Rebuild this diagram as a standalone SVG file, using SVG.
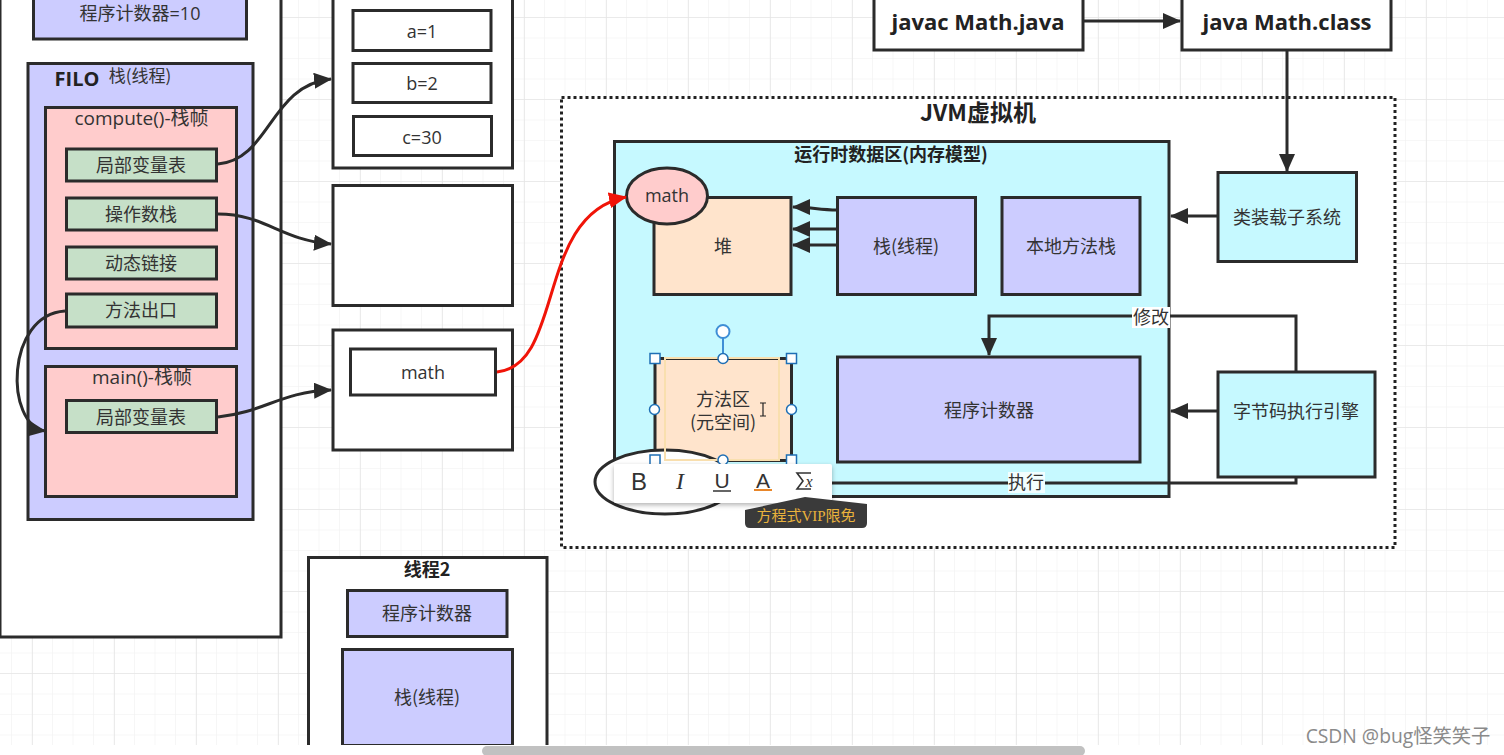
<svg xmlns="http://www.w3.org/2000/svg" width="1504" height="755" viewBox="0 0 1504 755">
<style>
text{font-family:"Open Sans","Noto Sans CJK SC","Noto Sans",sans-serif;font-size:18px;fill:#333;text-anchor:middle;dominant-baseline:central}
.cjk{font-family:"Noto Sans CJK SC","Noto Sans",sans-serif}
.b{font-weight:700;fill:#222}
rect.n{stroke:#2b2b2b;stroke-width:3}
.w{fill:#fff}.v{fill:#ccccff}.p{fill:#ffcccc}.g{fill:#c6e0c8}.o{fill:#ffe4cc}.c{fill:#c6f9ff}
.l{fill:none;stroke:#2b2b2b;stroke-width:3}
.h{fill:#fff;stroke:#1f6fb5;stroke-width:1.5}
.t{fill:none;stroke:#333;stroke-width:1.6}
</style>
<defs>
<marker id="a" viewBox="0 0 18 16" refX="17" refY="8" markerWidth="18" markerHeight="16" markerUnits="userSpaceOnUse" orient="auto"><path d="M0 0L18 8L0 16Z" fill="#2b2b2b"/></marker>
<marker id="r" viewBox="0 0 18 16" refX="17" refY="8" markerWidth="18" markerHeight="16" markerUnits="userSpaceOnUse" orient="auto"><path d="M0 0L18 8L0 16Z" fill="#f01408"/></marker>
<pattern id="g1" width="20.5" height="20.5" patternUnits="userSpaceOnUse" patternTransform="translate(11 17)"><path d="M0 20.5V0H20.5" fill="none" stroke="#f0f0f0" stroke-width="1.2"/></pattern>
<pattern id="g2" width="82" height="82" patternUnits="userSpaceOnUse" patternTransform="translate(32 17)"><path d="M0 82V0H82" fill="none" stroke="#e6e6e6" stroke-width="1.5"/></pattern>
<filter id="s" x="-10%" y="-20%" width="120%" height="150%"><feDropShadow dx="0" dy="2" stdDeviation="2.5" flood-color="#000" flood-opacity=".3"/></filter>
</defs>
<rect width="1504" height="755" fill="#fff"/>
<rect width="1504" height="755" fill="url(#g1)"/>
<rect width="1504" height="755" fill="url(#g2)"/>

<g id="thread1"><rect class="n w" x="0" y="-10" width="281" height="647"/></g>
<g id="pc1"><rect class="n v" x="33.500" y="-10" width="213" height="49"/><text x="140" y="13">程序计数器=10</text></g>
<g id="stack1"><rect class="n v" x="28" y="63.500" width="225" height="456"/><text class="b" x="77" y="78" style="font-size:20px">FILO</text><text x="140" y="74" class="cjk" style="font-size:17px">栈(线程)</text></g>
<g id="frame-compute"><rect class="n p" x="45.500" y="107.500" width="191" height="241"/><text x="141.500" y="118" style="font-size:19px">compute()-栈帧</text></g>
<g id="compute-locals"><rect class="n g" x="66.500" y="149" width="150" height="32"/><text x="141" y="165">局部变量表</text></g>
<g id="compute-ops"><rect class="n g" x="66.500" y="198" width="150" height="32"/><text x="141" y="214">操作数栈</text></g>
<g id="compute-link"><rect class="n g" x="66.500" y="247" width="150" height="32"/><text x="141" y="263">动态链接</text></g>
<g id="compute-exit"><rect class="n g" x="66.500" y="294" width="150" height="33"/><text x="141" y="310">方法出口</text></g>
<g id="frame-main"><rect class="n p" x="45.500" y="366.500" width="191" height="130"/><text x="142" y="377" style="font-size:19px">main()-栈帧</text></g>
<g id="main-locals"><rect class="n g" x="66.500" y="400.500" width="150" height="32"/><text x="141" y="417">局部变量表</text></g>

<g id="vars-box"><rect class="n w" x="333" y="-10" width="179.500" height="178"/></g>
<g id="var-a"><rect class="n w" x="353" y="10.500" width="138" height="40"/><text x="422" y="31">a=1</text></g>
<g id="var-b"><rect class="n w" x="353" y="63.500" width="138" height="39"/><text x="422" y="83">b=2</text></g>
<g id="var-c"><rect class="n w" x="353.500" y="116.500" width="138" height="39"/><text x="422" y="137">c=30</text></g>
<g id="ops-box"><rect class="n w" x="333" y="185.500" width="179.500" height="120"/></g>
<g id="main-box"><rect class="n w" x="333" y="330" width="179.500" height="120"/></g>
<g id="var-math"><rect class="n w" x="350.500" y="349" width="145" height="46"/><text x="423" y="372">math</text></g>

<g id="thread2"><rect class="n w" x="308.500" y="557.500" width="238.500" height="205"/><text class="b cjk" x="427" y="568" style="font-size:18px">线程2</text></g>
<g id="pc2"><rect class="n v" x="347.500" y="590.500" width="159.500" height="46"/><text x="427" y="613">程序计数器</text></g>
<g id="stack2"><rect class="n v" x="342.500" y="649.500" width="170" height="96"/><text x="427" y="696" class="cjk">栈(线程)</text></g>

<g id="javac"><rect class="n w" x="874" y="-10" width="209" height="60"/><text class="b" x="978" y="21" style="font-size:22px">javac Math.java</text></g>
<g id="java"><rect class="n w" x="1182" y="-10" width="209" height="60"/><text class="b" x="1287" y="21" style="font-size:22px">java Math.class</text></g>

<g id="jvm"><rect x="561.500" y="97.500" width="833.500" height="450" fill="#fff" stroke="#222" stroke-width="3" stroke-dasharray="3 3"/></g>
<g id="runtime"><rect class="n c" x="614.500" y="141.500" width="554.500" height="355"/><text class="b cjk" x="891" y="153" style="font-size:18px">运行时数据区(内存模型)</text></g>
<text class="b cjk" x="978" y="111" style="font-size:23px">JVM虚拟机</text>
<g id="heap"><rect class="n o" x="654" y="197.500" width="137" height="97"/><text x="723" y="246">堆</text></g>
<g id="math-oval"><ellipse cx="667" cy="196" rx="40.500" ry="28" fill="#ffcccc" stroke="#2b2b2b" stroke-width="3"/><text x="667" y="195">math</text></g>
<g id="stack"><rect class="n v" x="837.500" y="197.500" width="138" height="97"/><text x="906" y="245" class="cjk">栈(线程)</text></g>
<g id="native"><rect class="n v" x="1002" y="197.500" width="138" height="97"/><text x="1071" y="246">本地方法栈</text></g>
<g id="pc"><rect class="n v" x="837.500" y="357" width="302.500" height="105"/><text x="989" y="410">程序计数器</text></g>
<g id="method"><rect class="n o" x="655" y="358.500" width="136.500" height="102"/><text x="723" y="399">方法区</text><text x="723" y="421" class="cjk">(元空间)</text></g>
<g id="loader"><rect class="n c" x="1218" y="172.500" width="138.500" height="89"/><text x="1287" y="217">类装载子系统</text></g>
<g id="engine"><rect class="n c" x="1218" y="372" width="157" height="105"/><text x="1296" y="411">字节码执行引擎</text></g>

<g id="connectors">
<path class="l" marker-end="url(#a)" d="M218 164C270 160 270 85 331 79"/>
<path class="l" marker-end="url(#a)" d="M218 214C265 214 280 240 331 244"/>
<path class="l" marker-end="url(#a)" d="M218 417C265 412 280 392 331 390"/>
<path class="l" marker-end="url(#a)" d="M65 311C5 315 5 425 45 431"/>
<path fill="none" stroke="#f01408" stroke-width="3" marker-end="url(#r)" d="M497 372C565 365 535 215 626 197"/>
<path class="l" marker-end="url(#a)" d="M1083 21H1180"/>
<path class="l" marker-end="url(#a)" d="M1287 51V171"/>
<path class="l" marker-end="url(#a)" d="M1217 216H1171"/>
<path class="l" marker-end="url(#a)" d="M1217 411H1171"/>
<path class="l" marker-end="url(#a)" d="M837 210C820 210 810 207 793 207"/>
<path class="l" marker-end="url(#a)" d="M837 229H793"/>
<path class="l" marker-end="url(#a)" d="M837 245H793"/>
<path class="l" marker-end="url(#a)" d="M1296 372V316H989V355"/>
<path class="l" d="M1296 477V483H820"/>
<rect x="1132" y="307" width="38" height="21" fill="#fff"/><text x="1151" y="317">修改</text>
<rect x="1008" y="472" width="37" height="21" fill="#f2feff"/><text x="1026" y="482">执行</text>
</g>

<ellipse cx="665" cy="482" rx="70" ry="32" fill="#fff" stroke="#2b2b2b" stroke-width="3"/>
<rect x="665" y="358" width="114" height="102" fill="none" stroke="#f9dfae" stroke-width="2"/>
<g fill="#fff" stroke="#1f6fb5" stroke-width="1.5">
<path d="M723 338V358" fill="none" stroke="#3f8fd6" stroke-width="2"/>
<circle cx="723" cy="331.500" r="6.500" stroke="#3f8fd6" stroke-width="2"/>
<rect class="h" x="650" y="353.500" width="10" height="10"/><rect class="h" x="786.500" y="353.500" width="10" height="10"/>
<circle class="h" cx="723" cy="358.500" r="5"/>
<circle class="h" cx="654.500" cy="409.500" r="5"/><circle class="h" cx="791.500" cy="409.500" r="5"/>
<rect class="h" x="650" y="455" width="10" height="10"/><rect class="h" x="786.500" y="455" width="10" height="10"/>
<circle class="h" cx="723" cy="460" r="5"/>
</g>
<path d="M760 403H766M763 403V416M760 416H766" fill="none" stroke="#222" stroke-width="1.2"/>

<rect x="614" y="464" width="218" height="39" rx="2" fill="#fff" filter="url(#s)"/>
<text x="639" y="481" style="font-size:24px;font-family:'Liberation Sans',sans-serif">B</text>
<text x="680" y="481" style="font-size:24px;font-style:italic;font-family:'Liberation Serif',serif">I</text>
<text x="722" y="480" style="font-size:21px;font-family:'Liberation Sans',sans-serif">U</text>
<path d="M713 491H731" stroke="#333" stroke-width="1.5"/>
<text x="763" y="480" style="font-size:21px;font-family:'Liberation Sans',sans-serif">A</text>
<path d="M754 490H772" stroke="#e8862a" stroke-width="2"/>
<path d="M811 473H797L803 481L797 489H811" class="t"/>
<text x="809" y="481" style="font-size:16px;font-style:italic;font-family:'Liberation Serif',serif">x</text>
<path d="M745 510L805 497L867 504V523Q867 528 862 528H750Q745 528 745 523Z" fill="#3a3a3a"/>
<text x="806" y="516" class="cjk" style="font-size:15px;fill:#e9b23c;font-family:'Liberation Serif','Noto Sans CJK SC',serif">方程式VIP限免</text>

<rect y="745" width="1504" height="10" fill="#fff"/>
<rect x="482" y="746" width="603" height="10" rx="5" fill="#c1c1c1"/>
<text x="1398" y="735" style="font-size:19.300px;fill:#8a8a8a">CSDN @bug怪笑笑子</text>
</svg>
